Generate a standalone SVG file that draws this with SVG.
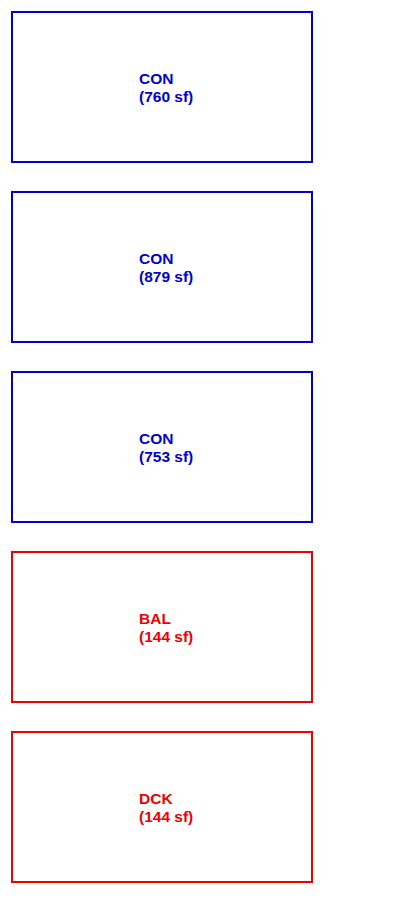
<svg xmlns="http://www.w3.org/2000/svg" width="412" height="900" viewBox="0 0 412 900">
<style>
rect{fill:#fff;stroke-width:2}
.b rect{stroke:#0000cc}.b text{fill:#0000cc}
.r rect{stroke:#ee0000}.r text{fill:#ee0000}
text{font-family:"Liberation Sans",Arial,sans-serif;font-size:15.5px;font-weight:bold}
</style>
<rect x="0" y="0" width="412" height="900" style="stroke:none"/>
<g id="con1" class="b"><rect x="12" y="12" width="300" height="150"/><text x="139" y="84">CON</text><text x="139" y="101.5">(760 sf)</text></g>
<g id="con2" class="b"><rect x="12" y="192" width="300" height="150"/><text x="139" y="264">CON</text><text x="139" y="281.5">(879 sf)</text></g>
<g id="con3" class="b"><rect x="12" y="372" width="300" height="150"/><text x="139" y="444">CON</text><text x="139" y="461.5">(753 sf)</text></g>
<g id="bal" class="r"><rect x="12" y="552" width="300" height="150"/><text x="139" y="624">BAL</text><text x="139" y="641.5">(144 sf)</text></g>
<g id="dck" class="r"><rect x="12" y="732" width="300" height="150"/><text x="139" y="804">DCK</text><text x="139" y="821.5">(144 sf)</text></g>
<g id="connectors"/>
</svg>
